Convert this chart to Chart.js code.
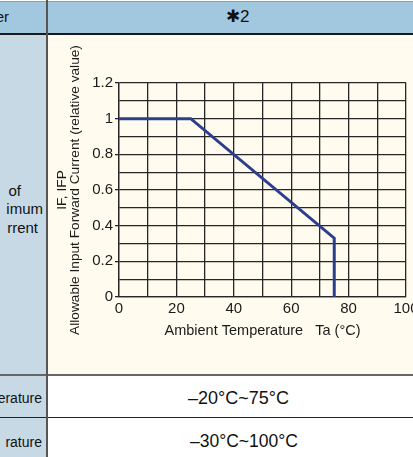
<!DOCTYPE html>
<html>
<head>
<meta charset="utf-8">
<script src="https://cdn.jsdelivr.net/npm/chart.js@4"></script>
<style>
  html, body { margin: 0; padding: 0; }
  body { width: 413px; height: 457px; overflow: hidden; position: relative; background: #fff;
         font-family: "Liberation Sans", Arial, sans-serif; color: #111; }
  .box { position: absolute; }
  .txt { position: absolute; white-space: nowrap; line-height: 1; }
</style>
</head>
<body>
<!-- table background -->
<div class="box" style="left:0;top:1px;width:413px;height:1px;background:#999"></div>
<div class="box" style="left:0;top:2px;width:413px;height:31px;background:#a1c8df"></div>
<div class="box" style="left:0;top:33px;width:413px;height:2px;background:#1a1a1a"></div>
<div class="box" style="left:0;top:35px;width:46px;height:422px;background:#c8d9e6"></div>
<div class="box" style="left:48px;top:35px;width:365px;height:339px;background:#fffcef"></div>
<div class="box" style="left:0;top:374px;width:413px;height:2px;background:#666"></div>
<div class="box" style="left:0;top:417px;width:413px;height:1px;background:#222"></div>
<div class="box" style="left:46px;top:0;width:2px;height:457px;background:#555"></div>

<!-- cell text -->
<div class="txt" style="right:404px;top:9px;font-size:15px">er</div>
<div class="txt" style="left:226px;top:8px;font-size:17px">✱2</div>
<div class="txt" style="right:392px;top:183px;font-size:15px">of</div>
<div class="txt" style="right:370px;top:201px;font-size:15px">imum</div>
<div class="txt" style="right:375px;top:220px;font-size:15px">rrent</div>
<div class="txt" style="right:371px;top:391px;font-size:14px">erature</div>
<div class="txt" style="right:371px;top:435px;font-size:14px">rature</div>
<div class="txt" style="left:188px;top:389px;font-size:18px">–20°C~75°C</div>
<div class="txt" style="left:190px;top:433px;font-size:17.5px">–30°C~100°C</div>

<div class="box" style="left:48px;top:34px;width:365px;height:340px;overflow:hidden">
  <canvas id="derating" width="380" height="340"></canvas>
</div>

<script>
// derating curve
var tempC = [0, 25, 75, 75];
var relCurrent = [1, 1, 0.33, 0];
var xTickLabels = [0, 20, 40, 60, 80, 100];
var yTickLabels = [0, 0.2, 0.4, 0.6, 0.8, 1, 1.2];

var gridColor = '#262626';
var textColor = '#1a1a1a';

function findLabel(list, v) {
    for (var i = 0; i < list.length; i++) {
        if (Math.abs(list[i] - v) < 1e-6) return String(list[i]);
    }
    return '';
}

var points = tempC.map(function (t, i) { return { x: t, y: relCurrent[i] }; });

const ctx = document.getElementById('derating').getContext('2d');
new Chart(ctx, {
    type: 'line',
    data: {
        datasets: [{
            data: points,
            borderColor: '#2b3f8c',
            borderWidth: 3,
            pointRadius: 0,
            tension: 0,
            fill: false
        }]
    },
    options: {
        responsive: false,
        animation: false,
        layout: { padding: { top: 49, right: 22, left: 0, bottom: 0 } },
        plugins: { legend: { display: false }, tooltip: { enabled: false } },
        scales: {
            x: {
                type: 'linear',
                min: 0,
                max: 100,
                afterFit: function (scale) { scale.height = 77; },
                border: { display: true, color: gridColor, width: 1.3 },
                grid: { color: gridColor, lineWidth: 1.3, drawTicks: false },
                ticks: {
                    stepSize: 10,
                    autoSkip: false,
                    maxRotation: 0,
                    padding: 3,
                    color: textColor,
                    font: { family: 'Liberation Sans', size: 15 },
                    callback: function (v) { return findLabel(xTickLabels, v); }
                },
                title: {
                    display: true,
                    text: 'Ambient Temperature   Ta (°C)',
                    color: textColor,
                    font: { family: 'Liberation Sans', size: 14.5 },
                    padding: { top: 0, bottom: 34 }
                }
            },
            y: {
                min: 0,
                max: 1.2,
                afterFit: function (scale) { scale.width = 71; },
                border: { display: true, color: gridColor, width: 1.3 },
                grid: {
                    color: gridColor,
                    lineWidth: 1.3,
                    drawTicks: true,
                    tickLength: 4,
                    tickColor: function (c) {
                        return c.tick && findLabel(yTickLabels, c.tick.value) !== '' ? gridColor : 'rgba(0,0,0,0)';
                    }
                },
                ticks: {
                    stepSize: 0.1,
                    autoSkip: false,
                    padding: 2,
                    color: textColor,
                    font: { family: 'Liberation Sans', size: 15 },
                    callback: function (v) { return findLabel(yTickLabels, v); }
                },
                title: {
                    display: true,
                    text: ['IF, IFP', 'Allowable Input Forward Current (relative value)'],
                    color: textColor,
                    font: { family: 'Liberation Sans', size: 13.7, lineHeight: '13px' },
                    padding: { top: 7.5, bottom: 0 }
                }
            }
        }
    }
});
</script>
</body>
</html>
